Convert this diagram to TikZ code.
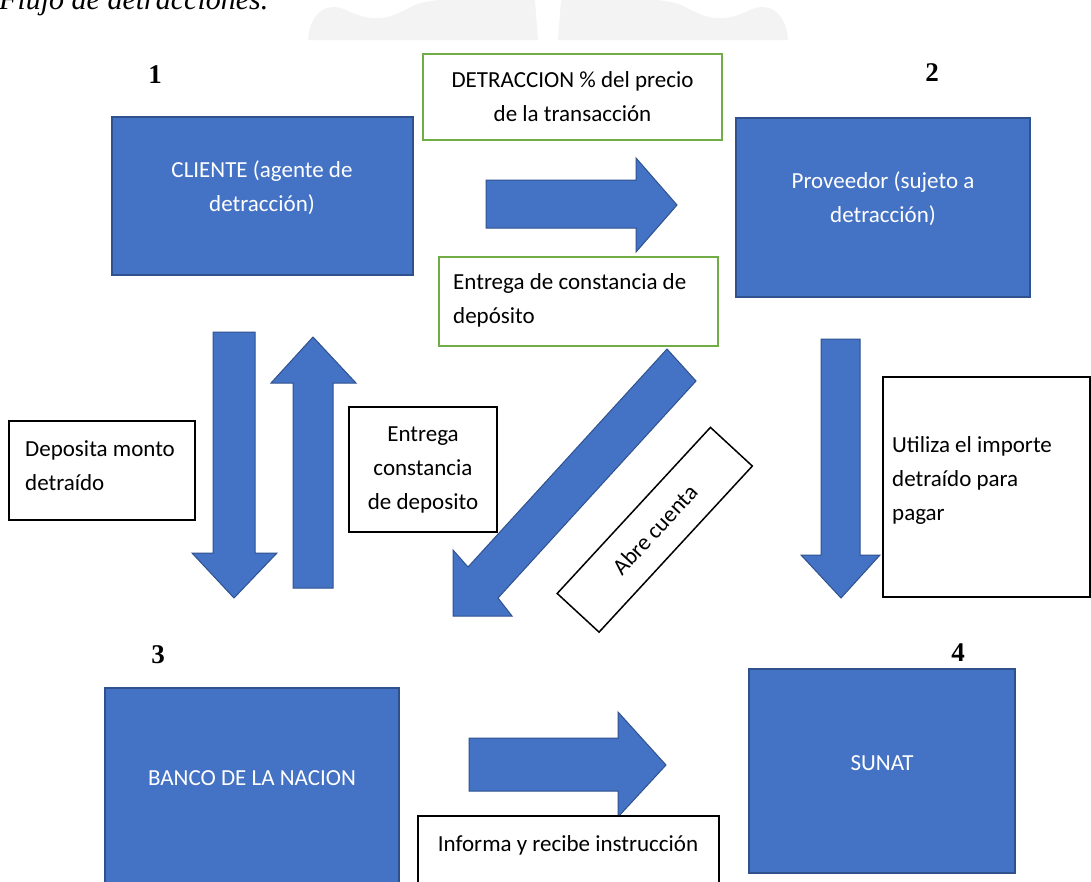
\documentclass[tikz,border=0pt]{standalone}
\usepackage{fontspec}
\setmainfont{Carlito}
\newfontfamily\serifnum{Liberation Serif}
\definecolor{fillblue}{HTML}{4472C4}
\definecolor{bordblue}{HTML}{2F528F}
\definecolor{greenb}{HTML}{70AD47}
\definecolor{wmgray}{HTML}{F3F3F3}
\begin{document}
\begin{tikzpicture}[x=1pt,y=-1pt,
  every node/.style={font=\fontsize{23}{34}\selectfont},
  bluebox/.style={draw=bordblue, fill=fillblue, line width=1.5pt, inner sep=0pt},
  whitetext/.style={text=white, align=center, inner sep=0pt},
  greenbox/.style={draw=greenb, line width=1.5pt, fill=white, inner sep=0pt},
  blackbox/.style={draw=black, line width=1.5pt, fill=white, inner sep=0pt},
  lefttext/.style={align=left, anchor=west, inner sep=0pt},
  blockarrow/.style={draw=bordblue, fill=fillblue, line width=1pt, line join=miter},
  num/.style={font=\serifnum\bfseries\fontsize{27}{30}\selectfont, inner sep=0pt},
]
\useasboundingbox (0,0) rectangle (1091,881);
\clip (0,0) rectangle (1091,881);
\fill[white] (0,0) rectangle (1091,881);

% watermark
\fill[wmgray] (308,40) .. controls (310,10) and (330,0) .. (350,12)
  .. controls (380,25) and (395,15) .. (415,5)
  .. controls (440,-5) and (500,0) .. (535,0) -- (538,40) -- cycle;
\fill[wmgray] (788,40) .. controls (786,10) and (766,0) .. (746,12)
  .. controls (716,25) and (701,15) .. (681,5)
  .. controls (656,-5) and (596,0) .. (561,0) -- (558,40) -- cycle;

% caption (cut off at top)
\node[anchor=base west, font=\serifnum\itshape\fontsize{30}{36}\selectfont, inner sep=0pt] (caption) at (-1,9) {Flujo de detracciones.};

% numbers
\node[num] (n1) at (155,75) {1};
\node[num] (n2) at (932,73) {2};
\node[num] (n3) at (158,655) {3};
\node[num] (n4) at (958,653) {4};

% main blue boxes
\node[bluebox, minimum width=301pt, minimum height=158pt] (cliente) at (262.5,196) {};
\node[whitetext] (clientetxt) at (262,188) {CLIENTE (agente de\\detracción)};
\node[bluebox, minimum width=294pt, minimum height=179pt] (proveedor) at (883,207.5) {};
\node[whitetext] (proveedortxt) at (883,199) {Proveedor (sujeto a\\detracción)};
\node[bluebox, minimum width=294pt, minimum height=212pt] (banco) at (252,794) {};
\node[whitetext] (bancotxt) at (252,778) {BANCO DE LA NACION};
\node[bluebox, minimum width=266pt, minimum height=204pt] (sunat) at (882,771) {};
\node[whitetext] (sunattxt) at (882,763) {SUNAT};

% block arrows
\draw[blockarrow] (486,180) -- (636,180) -- (636,158) -- (677,205) -- (636,252) -- (636,228) -- (486,228) -- cycle;
\draw[blockarrow] (213,332) -- (255,332) -- (255,553) -- (277,553) -- (234,598) -- (192,553) -- (213,553) -- cycle;
\draw[blockarrow] (293,588) -- (333,588) -- (333,383) -- (356,383) -- (313,337) -- (271,383) -- (293,383) -- cycle;
\draw[blockarrow] (667,349) -- (696,381) -- (498,598) -- (512,616) -- (453,616) -- (453,550) -- (468,567) -- cycle;
\draw[blockarrow] (821,339) -- (860,339) -- (860,555) -- (880,555) -- (841,598) -- (801,555) -- (821,555) -- cycle;
\draw[blockarrow] (469,738) -- (618,738) -- (618,712) -- (666,765) -- (618,817) -- (618,791) -- (469,791) -- cycle;

% green label boxes
\node[greenbox, minimum width=299pt, minimum height=86pt, align=center] (detrac) at (572.5,97) {DETRACCION \% del precio\\de la transacción};
\node[greenbox, minimum width=279pt, minimum height=89pt] (entregadep) at (578.5,301.5) {};
\node[lefttext] (entregadeptxt) at (453,300) {Entrega de constancia de\\depósito};

% black label boxes
\node[blackbox, minimum width=186pt, minimum height=99pt] (deposita) at (102,470.5) {};
\node[lefttext] (depositatxt) at (25,466) {Deposita monto\\detraído};
\node[blackbox, minimum width=148pt, minimum height=125pt, align=center] (entregacons) at (423,469.5) {Entrega\\constancia\\de deposito};
\node[blackbox, minimum width=207pt, minimum height=220pt] (utiliza) at (986.5,487) {};
\node[lefttext] (utilizatxt) at (892,480) {Utiliza el importe\\detraído para\\pagar};
\node[blackbox, minimum width=226pt, minimum height=57pt, rotate=47.3] (abre) at (654.75,529.75) {Abre cuenta};
\node[blackbox, minimum width=301pt, minimum height=84pt] (informa) at (568.5,858) {};
\node[inner sep=0pt] (informatxt) at (568,845) {Informa y recibe instrucción};
\end{tikzpicture}
\end{document}
